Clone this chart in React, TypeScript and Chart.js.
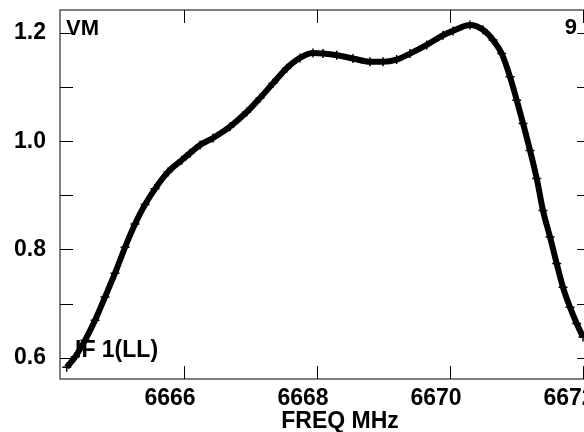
import React, { useEffect, useRef } from "react";
import { Chart, registerables } from "chart.js";

Chart.register(...registerables);

// Frequency (MHz) of each sample
const FREQ = [
  6664.236, 6664.361, 6664.511, 6664.662, 6664.812, 6664.962, 6665.113, 6665.263,
  6665.414, 6665.564, 6665.759, 6665.965, 6666.09, 6666.241, 6666.436, 6666.692,
  6666.943, 6667.143, 6667.338, 6667.544, 6667.744, 6667.94, 6668.09, 6668.296,
  6668.541, 6668.797, 6668.992, 6669.198, 6669.398, 6669.65, 6669.895, 6670.045,
  6670.3, 6670.496, 6670.647, 6670.777, 6670.902, 6671.003, 6671.098, 6671.203,
  6671.304, 6671.398, 6671.504, 6671.604, 6671.699, 6671.805, 6671.905, 6672.0,
];
// Amplitude of each sample
const AMP = [
  0.582, 0.601, 0.632, 0.669, 0.712, 0.756, 0.804, 0.847,
  0.883, 0.912, 0.943, 0.965, 0.978, 0.993, 1.006, 1.027,
  1.054, 1.08, 1.107, 1.135, 1.154, 1.163, 1.162, 1.159,
  1.153, 1.147, 1.147, 1.151, 1.162, 1.178, 1.196, 1.204,
  1.215, 1.206, 1.187, 1.162, 1.119, 1.076, 1.033, 0.983,
  0.931, 0.872, 0.823, 0.774, 0.73, 0.693, 0.663, 0.638,
];
const X_TICKS = [6666, 6668, 6670, 6672];
const Y_LABEL_TICKS = [0.6, 0.8, 1.0, 1.2];
const Y_ALL_TICKS = [0.6, 0.7, 0.8, 0.9, 1.0, 1.1, 1.2];
const X_MIN = 6664.135;
const X_MAX = 6672.105;
const Y_MIN = 0.5605;
const Y_MAX = 1.2426;
const TITLE_X = "FREQ MHz";
const LABEL_TL = "VM";
const LABEL_TR = "9";
const LABEL_BL = "IF 1(LL)";

const FONT = "'Liberation Sans', Arial, sans-serif";

const framePlugin = {
  id: "framePlugin",
  afterDraw(chart: any) {
    const { ctx, chartArea } = chart;
    const { left, right, top, bottom } = chartArea;
    const xs = chart.scales.x;
    const ys = chart.scales.y;
    ctx.save();
    // frame
    ctx.strokeStyle = "#555";
    ctx.lineWidth = 1.5;
    ctx.strokeRect(left, top, right - left, bottom - top);
    // ticks
    ctx.strokeStyle = "#000";
    ctx.lineWidth = 1;
    ctx.beginPath();
    const tl = 13;
    for (const v of X_TICKS) {
      const px = Math.round(xs.getPixelForValue(v)) + 0.5;
      ctx.moveTo(px, bottom);
      ctx.lineTo(px, bottom - tl);
      ctx.moveTo(px, top);
      ctx.lineTo(px, top + tl);
    }
    for (const v of Y_ALL_TICKS) {
      const py = Math.round(ys.getPixelForValue(v)) + 0.5;
      ctx.moveTo(left, py);
      ctx.lineTo(left + tl, py);
      ctx.moveTo(right, py);
      ctx.lineTo(right - tl, py);
    }
    ctx.stroke();
    // text
    ctx.fillStyle = "#000";
    ctx.textBaseline = "middle";
    ctx.font = `bold 22px ${FONT}`;
    ctx.textAlign = "left";
    ctx.fillText(LABEL_TL, left + 6, top + 19);
    ctx.textAlign = "right";
    ctx.fillText(LABEL_TR, 577, top + 18);
    ctx.font = `bold 23px ${FONT}`;
    ctx.textAlign = "left";
    ctx.fillText(LABEL_BL, left + 15, 351);
    ctx.textAlign = "center";
    ctx.fillText(TITLE_X, 340, 422);
    ctx.restore();
  },
};

export default function App() {
  const ref = useRef<HTMLCanvasElement>(null);
  useEffect(() => {
    document.body.style.margin = "0";
    document.body.style.overflow = "hidden";
    const canvas = ref.current!;
    const points = FREQ.map((f, i) => ({ x: f, y: AMP[i] }));
    const chart = new Chart(canvas, {
      type: "line",
      data: {
        datasets: [
          {
            data: points,
            borderColor: "#000",
            backgroundColor: "#000",
            borderWidth: 6,
            pointStyle: "cross",
            pointRadius: 4.5,
            pointBorderWidth: 1.5,
            pointBorderColor: "#000",
            cubicInterpolationMode: "monotone",
            fill: false,
          },
        ],
      },
      options: {
        animation: false,
        responsive: false,
        devicePixelRatio: 1,
        layout: { padding: { left: 0, top: 10, right: 60, bottom: 0 } },
        plugins: {
          legend: { display: false },
          tooltip: { enabled: false },
          title: { display: false },
        },
        scales: {
          x: {
            type: "linear",
            min: X_MIN,
            max: X_MAX,
            grid: { display: false, drawTicks: false },
            border: { display: false },
            ticks: {
              color: "#000",
              font: { family: FONT, size: 23, weight: "bold" },
              padding: 6,
              labelOffset: -14,
              maxRotation: 0,
              autoSkip: false,
              callback: (v: any) => String(v),
            },
            afterBuildTicks: (scale: any) => {
              scale.ticks = X_TICKS.map((v) => ({ value: v }));
            },
            afterFit: (scale: any) => {
              scale.height = 53;
              scale.paddingLeft = 0;
              scale.paddingRight = 0;
            },
          },
          y: {
            type: "linear",
            min: Y_MIN,
            max: Y_MAX,
            grid: { display: false, drawTicks: false },
            border: { display: false },
            ticks: {
              color: "#000",
              font: { family: FONT, size: 23, weight: "bold" },
              padding: 14,
              autoSkip: false,
              callback: (v: any) => Number(v).toFixed(1),
            },
            afterBuildTicks: (scale: any) => {
              scale.ticks = Y_LABEL_TICKS.map((v) => ({ value: v }));
            },
            afterFit: (scale: any) => {
              scale.width = 60;
              scale.paddingTop = 0;
              scale.paddingBottom = 0;
            },
          },
        },
      },
      plugins: [framePlugin],
    });
    return () => chart.destroy();
  }, []);
  return (
    <div style={{ position: "absolute", left: 0, top: 0, width: 650, height: 432 }}>
      <canvas ref={ref} width={650} height={432} style={{ display: "block" }} />
    </div>
  );
}
